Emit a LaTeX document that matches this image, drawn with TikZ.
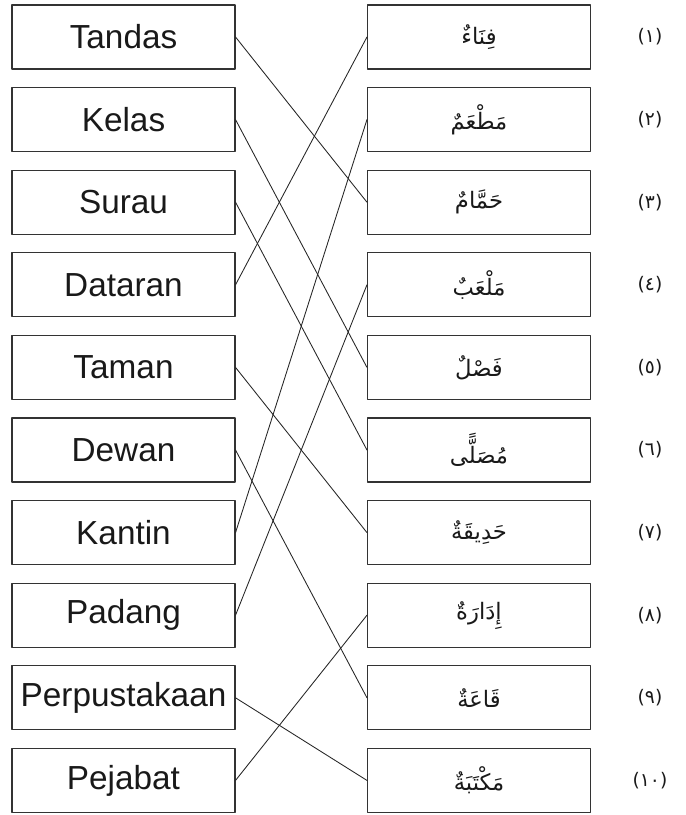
\documentclass[tikz,border=0pt]{standalone}
\usepackage{fontspec}
\setmainfont{Liberation Sans}
\newfontfamily\arabicfont[Script=Arabic]{DejaVu Sans}
\TeXXeTstate=1
\usetikzlibrary{positioning}

\tikzset{
  kotak/.style={draw=black!80,line width=0.8pt,minimum width=167.25pt,
    minimum height=48pt,inner sep=0pt,text=black!90},
  kiri/.style={kotak,font=\fontsize{25}{28}\selectfont},
  kanan/.style={kotak,font=\arabicfont\fontsize{17}{20}\selectfont},
  nombor/.style={font=\arabicfont\fontsize{14}{17}\selectfont,text=black!90},
  garis/.style={line width=0.65pt,black!85}
}
\newcommand{\ar}[1]{\beginR #1\endR}

\begin{document}
\begin{tikzpicture}[line cap=round,line join=round,x=0.75pt,y=-0.75pt]
  \useasboundingbox (0,0) rectangle (686,815);
  % lajur kiri
  \node[kiri] (tandas) at (123.5,37) {Tandas};
  \node[kiri] (kelas) at (123.5,119.6) {Kelas};
  \node[kiri] (surau) at (123.5,202.2) {Surau};
  \node[kiri] (dataran) at (123.5,284.8) {Dataran};
  \node[kiri] (taman) at (123.5,367.4) {Taman};
  \node[kiri] (dewan) at (123.5,450) {Dewan};
  \node[kiri] (kantin) at (123.5,532.6) {Kantin};
  \node[kiri] (padang) at (123.5,615.2) {Padang};
  \node[kiri] (perpustakaan) at (123.5,697.8) {Perpustakaan};
  \node[kiri] (pejabat) at (123.5,780.4) {Pejabat};
  % lajur kanan
  \node[kanan] (fina) at (479,37) {\ar{فِنَاءٌ}};
  \node[kanan] (mathaam) at (479,119.6) {\ar{مَطْعَمٌ}};
  \node[kanan] (hammam) at (479,202.2) {\ar{حَمَّامٌ}};
  \node[kanan] (malaab) at (479,284.8) {\ar{مَلْعَبٌ}};
  \node[kanan] (fasl) at (479,367.4) {\ar{فَصْلٌ}};
  \node[kanan] (musolla) at (479,450) {\ar{مُصَلًّى}};
  \node[kanan] (hadiqah) at (479,532.6) {\ar{حَدِيقَةٌ}};
  \node[kanan] (idarah) at (479,615.2) {\ar{إِدَارَةٌ}};
  \node[kanan] (qaah) at (479,697.8) {\ar{قَاعَةٌ}};
  \node[kanan] (maktabah) at (479,780.4) {\ar{مَكْتَبَةٌ}};
  % nombor
  \node[nombor] (n1) at (650,37) {(١)};
  \node[nombor] (n2) at (650,119.6) {(٢)};
  \node[nombor] (n3) at (650,202.2) {(٣)};
  \node[nombor] (n4) at (650,284.8) {(٤)};
  \node[nombor] (n5) at (650,367.4) {(٥)};
  \node[nombor] (n6) at (650,450) {(٦)};
  \node[nombor] (n7) at (650,532.6) {(٧)};
  \node[nombor] (n8) at (650,615.2) {(٨)};
  \node[nombor] (n9) at (650,697.8) {(٩)};
  \node[nombor] (n10) at (650,780.4) {(١٠)};
  % padanan
  \draw[garis] (tandas.east) -- (hammam.west);
  \draw[garis] (kelas.east) -- (fasl.west);
  \draw[garis] (surau.east) -- (musolla.west);
  \draw[garis] (dataran.east) -- (fina.west);
  \draw[garis] (taman.east) -- (hadiqah.west);
  \draw[garis] (dewan.east) -- (qaah.west);
  \draw[garis] (kantin.east) -- (mathaam.west);
  \draw[garis] (padang.east) -- (malaab.west);
  \draw[garis] (perpustakaan.east) -- (maktabah.west);
  \draw[garis] (pejabat.east) -- (idarah.west);
\end{tikzpicture}
\end{document}
